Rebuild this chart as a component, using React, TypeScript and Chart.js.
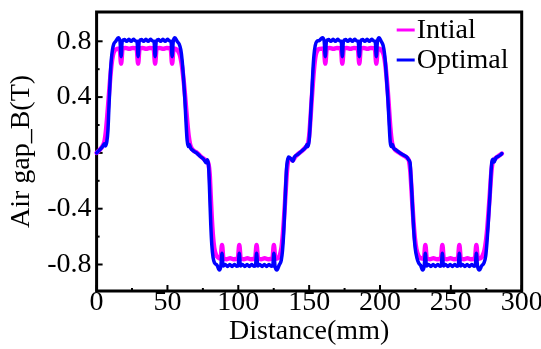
import React, { useEffect, useRef } from 'react';
import { Chart, registerables } from 'chart.js';

Chart.register(...registerables);

const seriesLabels = ['Intial', 'Optimal'];
const seriesColors = ['#ff00ff', '#0000ff'];
const xTickValues = [0, 25, 50, 75, 100, 125, 150, 175, 200, 225, 250, 275, 300];
const yTickValues = [-0.8, -0.6, -0.4, -0.2, 0, 0.2, 0.4, 0.6, 0.8];
const xTitle = 'Distance(mm)';
const yTitle = 'Air gap_B(T)';

// [distance (mm), flux density (T)]
const optimal: [number, number][] = [
  [0, 0.0], [1.5, 0.015], [3, 0.03], [4.5, 0.05], [5.5, 0.065], [6.3, 0.05], [7.2, 0.08],
  [8, 0.16], [8.6, 0.3], [9.1, 0.42], [9.7, 0.56], [10.4, 0.67], [11.2, 0.74], [12.1, 0.78],
  [13.5, 0.80], [15.3, 0.825], [16.5, 0.80], [17.3, 0.69], [18.1, 0.80], [19.6, 0.812], [21.2, 0.800],
  [22.8, 0.814], [24.4, 0.800], [26, 0.814], [27.6, 0.802], [28.5, 0.80], [29.3, 0.69], [30.1, 0.80],
  [31.6, 0.812], [33.2, 0.800], [34.8, 0.814], [36.4, 0.800], [38, 0.814], [39.6, 0.802], [40.5, 0.80],
  [41.3, 0.69], [42.1, 0.80], [43.6, 0.812], [45.2, 0.800], [46.8, 0.814], [48.4, 0.800], [50, 0.814],
  [51.6, 0.802], [52.5, 0.80], [53.3, 0.69], [54.1, 0.80], [55.3, 0.825], [56.8, 0.80],
  [58.3, 0.78], [59.4, 0.74], [60.4, 0.66], [61.3, 0.54], [62.2, 0.40], [63.1, 0.22], [63.9, 0.09],
  [64.7, 0.045], [65.5, 0.06], [66.3, 0.035], [68.3, 0.015], [70.5, 0.0], [73, -0.024], [75.5, -0.045],
  [77.2, -0.07], [78.2, -0.05], [79, -0.09], [79.5, -0.2], [80, -0.35], [80.6, -0.52], [81.3, -0.66],
  [82.2, -0.75], [83.3, -0.79], [85, -0.805], [86.6, -0.84], [87.7, -0.81], [88.5, -0.72], [89.3, -0.81],
  [90.8, -0.80], [92.4, -0.814], [94, -0.80], [95.6, -0.814], [97.2, -0.80], [98.8, -0.812], [99.9, -0.81],
  [100.7, -0.72], [101.5, -0.81], [103, -0.80], [104.6, -0.814], [106.2, -0.80], [107.8, -0.814],
  [109.4, -0.80], [111, -0.812], [112.1, -0.81], [112.9, -0.72], [113.7, -0.81], [115.2, -0.80],
  [116.8, -0.814], [118.4, -0.80], [120, -0.814], [121.6, -0.80], [123.2, -0.812], [124.3, -0.81],
  [125.1, -0.72], [125.9, -0.81], [127.3, -0.84], [128.8, -0.805], [130.3, -0.77], [131.2, -0.7],
  [132, -0.58], [132.7, -0.42], [133.4, -0.25], [134, -0.12], [134.6, -0.06], [135.5, -0.03], [137, -0.04],
  [138.5, -0.06], [139.6, -0.03], [142, -0.01], [145, 0.015], [147.5, 0.04], [148.4, 0.06], [149.2, 0.045],
  [150, 0.09], [150.7, 0.2], [151.3, 0.32], [151.9, 0.43], [152.6, 0.58], [153.4, 0.7], [154.3, 0.77],
  [155.5, 0.80], [157, 0.805], [159.4, 0.825], [160.6, 0.80], [161.4, 0.69], [162.2, 0.80], [163.7, 0.812],
  [165.3, 0.80], [166.9, 0.814], [168.5, 0.80], [170.1, 0.814], [171.7, 0.802], [172.6, 0.80], [173.4, 0.69],
  [174.2, 0.80], [175.7, 0.812], [177.3, 0.80], [178.9, 0.814], [180.5, 0.80], [182.1, 0.814], [183.7, 0.802],
  [184.6, 0.80], [185.4, 0.69], [186.2, 0.80], [187.7, 0.812], [189.3, 0.80], [190.9, 0.814], [192.5, 0.80],
  [194.1, 0.814], [195.7, 0.802], [196.6, 0.80], [197.4, 0.69], [198.2, 0.80], [199.4, 0.825], [200.8, 0.80],
  [202.2, 0.77], [203.2, 0.71], [204, 0.62], [204.8, 0.5], [205.6, 0.38], [206.4, 0.22], [207.2, 0.08],
  [208, 0.045], [208.8, 0.06], [209.6, 0.035], [211.5, 0.02], [214, 0.0], [216.5, -0.015], [219, -0.03],
  [220.2, -0.05], [221.2, -0.07], [221.8, -0.16], [222.5, -0.29], [223.2, -0.44], [223.9, -0.57],
  [224.8, -0.68], [226, -0.75], [227.3, -0.79], [228.6, -0.805], [230.1, -0.84], [231.2, -0.81], [232, -0.72],
  [232.8, -0.81], [234.3, -0.80], [235.9, -0.814], [237.5, -0.80], [239.1, -0.814], [240.7, -0.80],
  [242.3, -0.812], [243.2, -0.81], [244, -0.72], [244.8, -0.81], [246.3, -0.80], [247.9, -0.814],
  [249.5, -0.80], [251.1, -0.814], [252.7, -0.80], [254.3, -0.812], [255.2, -0.81], [256, -0.72],
  [256.8, -0.81], [258.3, -0.80], [259.9, -0.814], [261.5, -0.80], [263.1, -0.814], [264.7, -0.80],
  [266.3, -0.812], [267.2, -0.81], [268, -0.72], [268.8, -0.81], [270.2, -0.84], [271.7, -0.81],
  [273.3, -0.79], [274.6, -0.74], [275.5, -0.64], [276.3, -0.52], [277, -0.4], [277.7, -0.28],
  [278.3, -0.15], [279, -0.06], [279.8, -0.045], [280.6, -0.065], [281.8, -0.035], [283.5, -0.025],
  [285, -0.015], [286, -0.005],
];

const intial: [number, number][] = [
  [0, 0.0], [2, 0.02], [4, 0.045], [5.5, 0.08], [6.5, 0.15], [7.5, 0.26], [8.5, 0.39], [9.5, 0.52],
  [10.5, 0.63], [11.5, 0.7], [12.8, 0.735], [14.5, 0.745], [16.3, 0.748], [17.3, 0.64], [18.3, 0.748],
  [20.5, 0.752], [23, 0.746], [25.5, 0.752], [28.3, 0.748], [29.3, 0.64], [30.3, 0.748], [32.5, 0.752],
  [35, 0.746], [37.5, 0.752], [40.3, 0.748], [41.3, 0.64], [42.3, 0.748], [44.5, 0.752], [47, 0.746],
  [49.5, 0.752], [52.3, 0.748], [53.3, 0.64], [54.3, 0.748], [56, 0.745], [57.5, 0.73], [58.8, 0.70],
  [60, 0.64], [61, 0.56], [62, 0.46], [63, 0.34], [64, 0.22], [65, 0.12], [66, 0.06], [67.2, 0.03],
  [69, 0.012], [71, 0.0], [73.5, -0.025], [76, -0.045], [78, -0.06], [79, -0.08], [79.8, -0.15],
  [80.5, -0.3], [81.2, -0.45], [82, -0.58], [83, -0.68], [84.2, -0.73], [85.8, -0.75], [87.5, -0.758],
  [88.5, -0.66], [89.5, -0.758], [91.7, -0.762], [94.2, -0.755], [96.7, -0.762], [99.7, -0.758],
  [100.7, -0.66], [101.7, -0.758], [103.9, -0.762], [106.4, -0.755], [108.9, -0.762], [111.9, -0.758],
  [112.9, -0.66], [113.9, -0.758], [116.1, -0.762], [118.6, -0.755], [121.1, -0.762], [124.1, -0.758],
  [125.1, -0.66], [126.1, -0.758], [127.8, -0.755], [129.2, -0.735], [130.3, -0.69], [131.3, -0.6],
  [132.2, -0.48], [133, -0.35], [133.8, -0.21], [134.6, -0.1], [135.5, -0.05], [137, -0.045],
  [138.5, -0.055], [140, -0.03], [142, -0.01], [145, 0.015], [147.5, 0.04], [149, 0.06], [150, 0.12],
  [150.9, 0.24], [151.8, 0.38], [152.7, 0.51], [153.6, 0.62], [154.6, 0.7], [155.8, 0.735], [157.5, 0.745],
  [160.4, 0.748], [161.4, 0.64], [162.4, 0.748], [164.6, 0.752], [167.1, 0.746], [169.6, 0.752],
  [172.4, 0.748], [173.4, 0.64], [174.4, 0.748], [176.6, 0.752], [179.1, 0.746], [181.6, 0.752],
  [184.4, 0.748], [185.4, 0.64], [186.4, 0.748], [188.6, 0.752], [191.1, 0.746], [193.6, 0.752],
  [196.4, 0.748], [197.4, 0.64], [198.4, 0.748], [200, 0.745], [201.5, 0.73], [202.7, 0.70], [203.7, 0.64],
  [204.6, 0.55], [205.5, 0.44], [206.4, 0.31], [207.3, 0.18], [208.2, 0.09], [209.2, 0.045], [210.5, 0.025],
  [213, 0.005], [216, -0.015], [219, -0.035], [220.5, -0.06], [221.3, -0.12], [222.1, -0.24], [222.9, -0.38],
  [223.7, -0.5], [224.6, -0.61], [225.7, -0.69], [227, -0.735], [228.7, -0.755], [231, -0.758], [232, -0.66],
  [233, -0.758], [235.2, -0.762], [237.7, -0.755], [240.2, -0.762], [243, -0.758], [244, -0.66],
  [245, -0.758], [247.2, -0.762], [249.7, -0.755], [252.2, -0.762], [255, -0.758], [256, -0.66],
  [257, -0.758], [259.2, -0.762], [261.7, -0.755], [264.2, -0.762], [267, -0.758], [268, -0.66],
  [269, -0.758], [271, -0.755], [272.5, -0.735], [273.7, -0.7], [274.8, -0.63], [275.8, -0.53],
  [276.7, -0.41], [277.6, -0.28], [278.5, -0.15], [279.4, -0.07], [280.5, -0.05], [282, -0.035],
  [284, -0.02], [286, -0.005],
];

const FONT = "'Liberation Serif', 'Times New Roman', serif";

const framePlugin = {
  id: 'frame',
  beforeDatasetsDraw(chart: any) {
    const { ctx, chartArea, scales } = chart;
    const { left, top, right, bottom } = chartArea;
    ctx.save();
    ctx.strokeStyle = '#000';
    ctx.lineWidth = 2;
    for (const v of xTickValues) {
      const px = scales.x.getPixelForValue(v);
      const len = v % 50 === 0 ? 6 : 3;
      ctx.beginPath();
      ctx.moveTo(px, bottom);
      ctx.lineTo(px, bottom - len);
      ctx.stroke();
    }
    for (const v of yTickValues) {
      const py = scales.y.getPixelForValue(v);
      const len = Math.round(v * 10) % 4 === 0 ? 6 : 3;
      ctx.beginPath();
      ctx.moveTo(left, py);
      ctx.lineTo(left + len, py);
      ctx.stroke();
    }
    ctx.lineWidth = 3;
    ctx.strokeRect(left, top, right - left, bottom - top);
    ctx.restore();
  },
};

const legendPlugin = {
  id: 'boxLegend',
  afterDraw(chart: any) {
    const { ctx, chartArea } = chart;
    const x0 = chartArea.right - 125;
    const rows = [chartArea.top + 18, chartArea.top + 48];
    ctx.save();
    ctx.font = `28px ${FONT}`;
    ctx.textBaseline = 'middle';
    ctx.textAlign = 'left';
    seriesLabels.forEach((label, i) => {
      const y = rows[i];
      ctx.strokeStyle = seriesColors[i];
      ctx.lineWidth = 3;
      ctx.beginPath();
      ctx.moveTo(x0, y);
      ctx.lineTo(x0 + 18, y);
      ctx.stroke();
      ctx.fillStyle = '#000';
      ctx.fillText(label, x0 + 20, y + 1);
    });
    ctx.restore();
  },
};

export default function App() {
  const canvasRef = useRef<HTMLCanvasElement | null>(null);

  useEffect(() => {
    const canvas = canvasRef.current;
    if (!canvas) return;
    const chart = new Chart(canvas, {
      type: 'line',
      data: {
        datasets: [
          {
            label: seriesLabels[0],
            data: intial.map(([x, y]) => ({ x, y })),
            borderColor: seriesColors[0],
            borderWidth: 4.5,
            pointRadius: 0,
            cubicInterpolationMode: 'monotone',
            borderJoinStyle: 'round',
            borderCapStyle: 'round',
            fill: false,
            clip: false,
            order: 2,
          },
          {
            label: seriesLabels[1],
            data: optimal.map(([x, y]) => ({ x, y })),
            borderColor: seriesColors[1],
            borderWidth: 3.5,
            pointRadius: 0,
            cubicInterpolationMode: 'monotone',
            borderJoinStyle: 'round',
            borderCapStyle: 'round',
            fill: false,
            clip: false,
            order: 1,
          },
        ],
      },
      options: {
        animation: false,
        responsive: true,
        maintainAspectRatio: false,
        devicePixelRatio: 1,
        layout: { padding: { top: 12, right: 19.3, bottom: 0, left: 0 } },
        plugins: {
          legend: { display: false },
          tooltip: { enabled: false },
        },
        scales: {
          x: {
            type: 'linear',
            min: 0,
            max: 300,
            grid: { display: false, drawTicks: false },
            border: { display: false },
            afterBuildTicks: (scale: any) => {
              scale.ticks = xTickValues.map((v) => ({ value: v }));
            },
            afterFit: (scale: any) => {
              scale.height = 58;
              scale.paddingLeft = 0;
              scale.paddingRight = 0;
            },
            ticks: {
              autoSkip: false,
              maxRotation: 0,
              padding: -5,
              color: '#000',
              font: { family: FONT, size: 28 },
              callback: (v: any) => (Number(v) % 50 === 0 ? String(v) : ''),
            },
            title: {
              display: true,
              text: xTitle,
              color: '#000',
              font: { family: FONT, size: 28 },
              padding: { top: 0, bottom: 1 },
            },
          },
          y: {
            type: 'linear',
            min: -0.99,
            max: 1.01,
            grid: { display: false, drawTicks: false },
            border: { display: false },
            afterBuildTicks: (scale: any) => {
              scale.ticks = yTickValues.map((v) => ({ value: v }));
            },
            afterFit: (scale: any) => {
              scale.width = 96.6;
              scale.paddingTop = 0;
              scale.paddingBottom = 0;
            },
            ticks: {
              autoSkip: false,
              padding: 5,
              color: '#000',
              font: { family: FONT, size: 28 },
              callback: (v: any) => {
                const n = Number(v);
                return Math.round(n * 10) % 4 === 0 ? n.toFixed(1) : '';
              },
            },
            title: {
              display: true,
              text: yTitle,
              color: '#000',
              font: { family: FONT, size: 28 },
              padding: { top: 5, bottom: 0 },
            },
          },
        },
      },
      plugins: [framePlugin, legendPlugin],
    } as any);
    return () => chart.destroy();
  }, []);

  return (
    <div style={{ position: 'absolute', left: 0, top: 0, width: 541, height: 349, background: '#fff' }}>
      <canvas ref={canvasRef} />
    </div>
  );
}
